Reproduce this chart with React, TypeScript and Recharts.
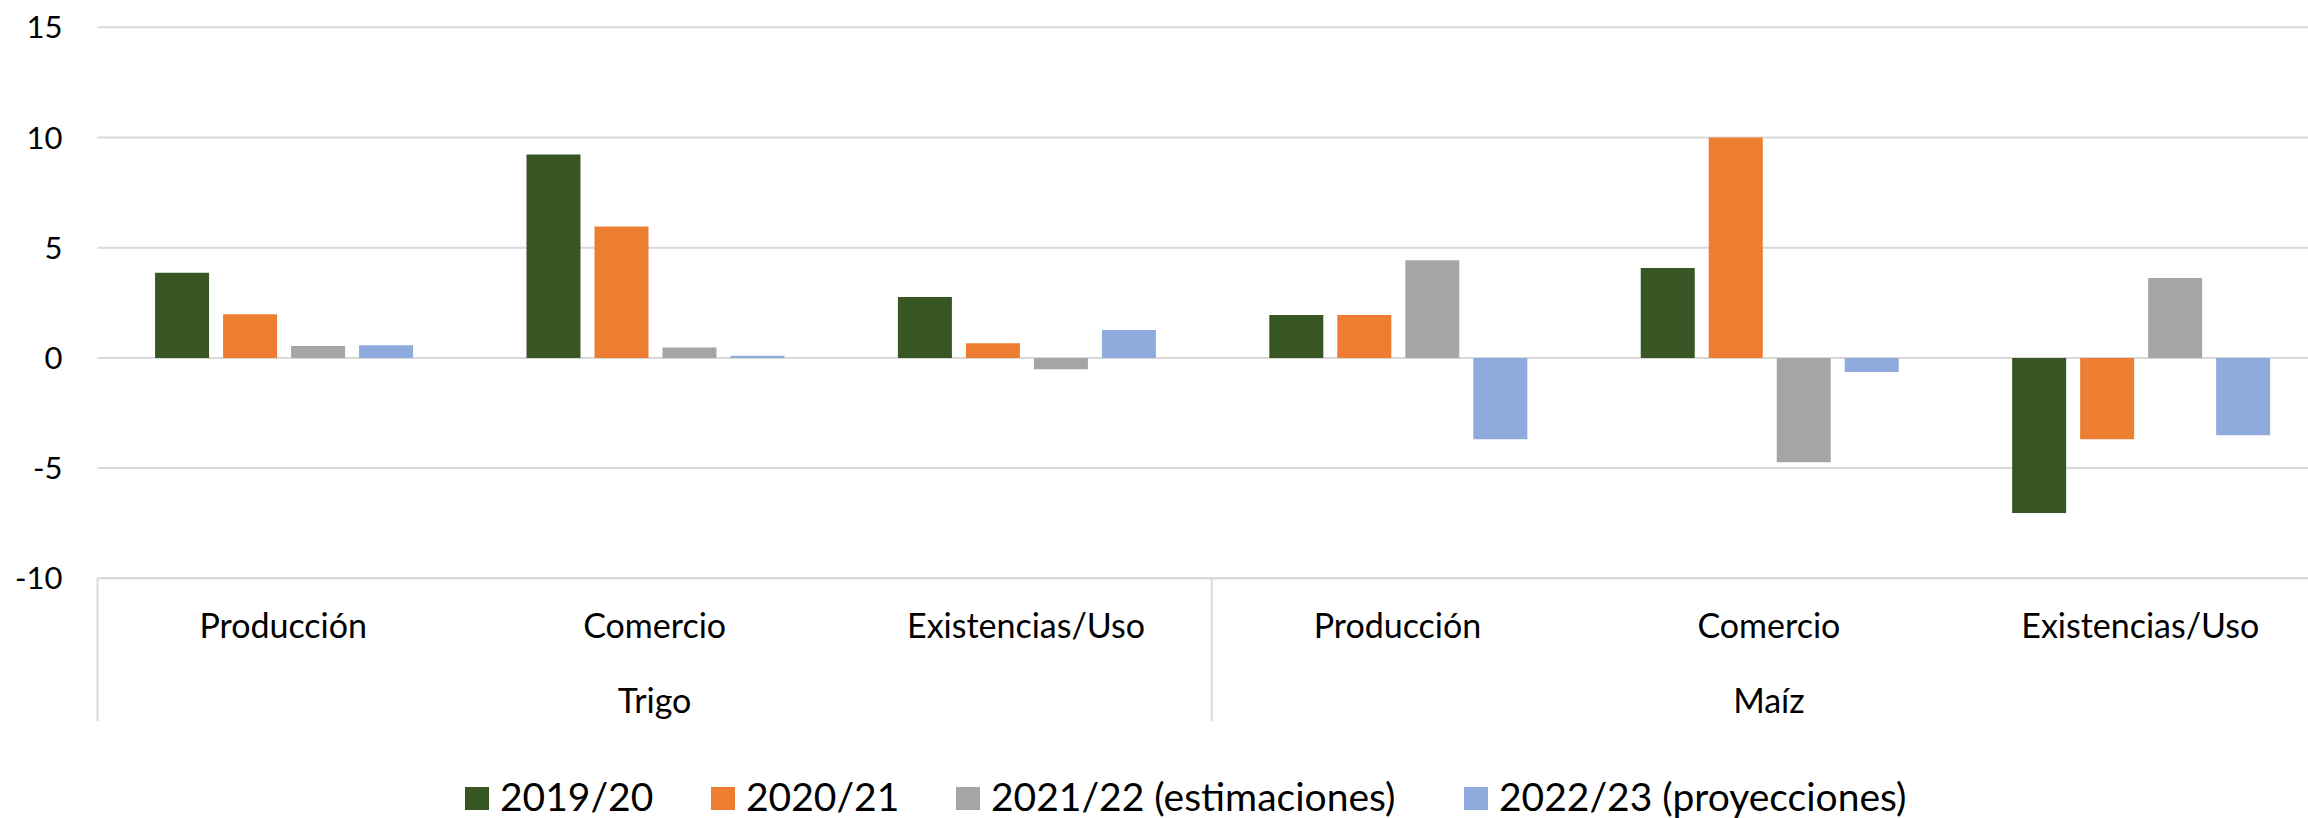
import React from "react"
import { BarChart, Bar, XAxis, YAxis, CartesianGrid, Legend } from "recharts"

const categories = ["Producción", "Comercio", "Existencias/Uso", "Producción", "Comercio", "Existencias/Uso"]
const groups = ["Trigo", "Trigo", "Trigo", "Maíz", "Maíz", "Maíz"]

const v2019 = [3.86, 9.23, 2.76, 1.95, 4.08, -7.04]
const v2020 = [1.98, 5.96, 0.66, 1.95, 10.0, -3.69]
const v2021 = [0.54, 0.47, -0.52, 4.43, -4.73, 3.62]
const v2022 = [0.57, 0.1, 1.27, -3.69, -0.64, -3.51]

const seriesNames = ["2019/20", "2020/21", "2021/22 (estimaciones)", "2022/23 (proyecciones)"]
const seriesKeys = ["s2019", "s2020", "s2021", "s2022"]
const colors = ["#375623", "#ED7D31", "#A5A5A5", "#8FAADC"]
const yTicks = [-10, -5, 0, 5, 10, 15]

const data = categories.map((c, i) => ({
  id: `${groups[i]}-${c}-${i}`,
  s2019: v2019[i],
  s2020: v2020[i],
  s2021: v2021[i],
  s2022: v2022[i],
}))

const FONT = "Lato, 'Noto Sans', sans-serif"
const CHART_W = 2326
const CHART_H = 818
const TOP = 27.3
const YAXIS_W = 97.5
const LEGEND_H = 40
const PLOT_BOTTOM = 578.3
const XAXIS_H = CHART_H - LEGEND_H - PLOT_BOTTOM
const BAND = (CHART_W - YAXIS_W) / categories.length
const GRID = "#d9d9d9"

// legend item widths (square start to next square start)
const legendWidths = [246, 245, 508, 460]

const CategoryTick = (props: any) => {
  const { x, y, payload } = props
  const i = payload?.index ?? props.index
  const half = BAND / 2
  const sepH = 142.7
  return (
    <g>
      <text x={x} y={y + 60} textAnchor="middle" fontSize={34} fontFamily={FONT} fill="#000">
        {categories[i]}
      </text>
      {i % 3 === 1 && (
        <text x={x} y={y + 135} textAnchor="middle" fontSize={34} fontFamily={FONT} fill="#000">
          {groups[i]}
        </text>
      )}
      {i % 3 === 0 && <line x1={x - half} x2={x - half} y1={y} y2={y + sepH} stroke={GRID} strokeWidth={2} />}
      {i === categories.length - 1 && (
        <line x1={x + half} x2={x + half} y1={y} y2={y + sepH} stroke={GRID} strokeWidth={2} />
      )}
    </g>
  )
}

const LegendContent = () => (
  <div style={{ display: "flex", height: LEGEND_H, paddingLeft: 465, alignItems: "center", fontFamily: FONT }}>
    {seriesNames.map((n, i) => (
      <div key={n} style={{ width: legendWidths[i], display: "flex", alignItems: "center", flexShrink: 0 }}>
        <span style={{ width: 24, height: 23, background: colors[i], display: "inline-block", marginRight: 11 }} />
        <span style={{ fontSize: 39, lineHeight: "40px", color: "#000", whiteSpace: "nowrap", position: "relative", top: -2 }}>
          {n}
        </span>
      </div>
    ))}
  </div>
)

export default function App() {
  return (
    <div style={{ position: "absolute", left: 0, top: 0, width: 2308, height: 818, overflow: "hidden", background: "#fff" }}>
      <BarChart
        width={CHART_W}
        height={CHART_H}
        data={data}
        margin={{ top: TOP, right: 0, bottom: 0, left: 0 }}
        barCategoryGap="15.5%"
        barGap={14}
      >
        <CartesianGrid vertical={false} stroke={GRID} strokeWidth={2} />
        <XAxis
          dataKey="id"
          height={XAXIS_H}
          interval={0}
          tickLine={false}
          tickSize={0}
          tickMargin={0}
          axisLine={{ stroke: GRID, strokeWidth: 2 }}
          tick={<CategoryTick />}
        />
        <YAxis
          width={YAXIS_W}
          domain={[-10, 15]}
          ticks={yTicks}
          interval={0}
          axisLine={false}
          tickLine={false}
          tickSize={0}
          tickMargin={35}
          tick={{ fill: "#000", fontSize: 31, fontFamily: FONT }}
        />
        <Legend verticalAlign="bottom" content={<LegendContent />} />
        {seriesKeys.map((k, i) => (
          <Bar key={k} dataKey={k} name={seriesNames[i]} fill={colors[i]} isAnimationActive={false} />
        ))}
      </BarChart>
    </div>
  )
}
